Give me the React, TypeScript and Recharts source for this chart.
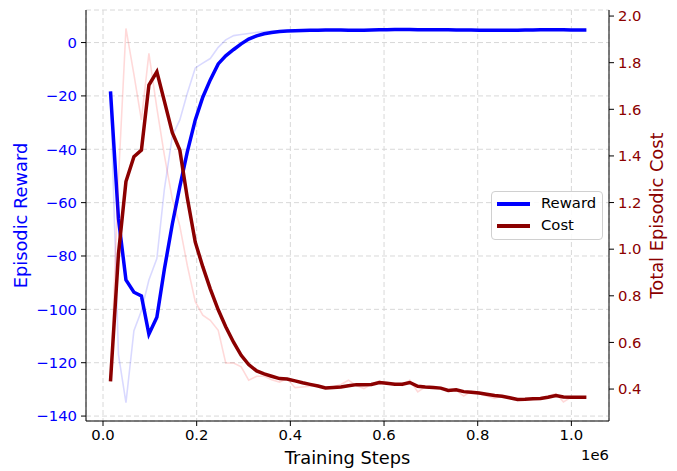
import { LineChart, Line, XAxis, YAxis, CartesianGrid, Legend } from "recharts";

// training steps, in thousands
const stepsK = [
  16, 33, 49, 66, 82, 98, 115, 131, 148, 164, 180, 197, 213, 229, 246, 262, 279, 295, 311, 328, 344,
  360, 377, 393, 410, 426, 442, 459, 475, 492, 508, 524, 541, 557, 573, 590, 606, 623, 639, 655, 672,
  688, 705, 721, 737, 754, 770, 786, 803, 819, 836, 852, 868, 885, 901, 918, 934, 950, 967, 983, 999,
  1016, 1032,
];

const rewardSmooth = [
  -18.3, -66, -89, -93.6, -95, -109.3, -103, -85, -68, -54, -41, -29, -20.5, -14, -8, -5, -2.6, -0.5,
  1.3, 2.5, 3.3, 3.8, 4.1, 4.3, 4.4, 4.5, 4.6, 4.6, 4.7, 4.7, 4.7, 4.6, 4.6, 4.6, 4.7, 4.8, 4.8, 4.9,
  4.9, 4.9, 4.8, 4.8, 4.8, 4.8, 4.8, 4.7, 4.7, 4.7, 4.6, 4.6, 4.6, 4.6, 4.6, 4.6, 4.7, 4.7, 4.8, 4.8,
  4.8, 4.8, 4.7, 4.7, 4.7,
];

const rewardRaw = [
  -18.3, -117, -135, -108, -100.5, -89, -81, -55, -35, -29, -19, -9.5, -7.7, -6, -1.8, 1, 2.6, 3.0,
  3.4, 3.8, 4.1, 4.3, 4.4, 4.5, 4.6, 4.6, 4.7, 4.6, 4.8, 4.7, 4.6, 4.6, 4.5, 4.7, 4.8, 4.9, 4.8, 5.0,
  4.9, 4.8, 4.8, 4.9, 4.7, 4.8, 4.8, 4.6, 4.7, 4.7, 4.5, 4.6, 4.7, 4.6, 4.5, 4.7, 4.8, 4.7, 4.9, 4.8,
  4.7, 4.8, 4.6, 4.7, 4.7,
];

const costSmooth = [
  0.433, 0.98, 1.29, 1.397, 1.425, 1.704, 1.761, 1.635, 1.5, 1.425, 1.22, 1.03, 0.925, 0.83, 0.74,
  0.667, 0.6, 0.545, 0.505, 0.478, 0.465, 0.455, 0.445, 0.443, 0.435, 0.427, 0.42, 0.413, 0.405, 0.407,
  0.409, 0.414, 0.419, 0.419, 0.42, 0.428, 0.425, 0.421, 0.421, 0.428, 0.412, 0.409, 0.407, 0.404,
  0.394, 0.397, 0.389, 0.386, 0.383, 0.378, 0.372, 0.369, 0.363, 0.355, 0.356, 0.358, 0.36, 0.365,
  0.372, 0.366, 0.365, 0.365, 0.365,
];

const costRaw = [
  0.433, 1.3, 1.947, 1.75, 1.554, 1.84, 1.605, 1.403, 1.215, 1.099, 0.93, 0.775, 0.717, 0.695, 0.652,
  0.512, 0.512, 0.495, 0.438, 0.455, 0.455, 0.44, 0.43, 0.445, 0.406, 0.409, 0.412, 0.416, 0.405, 0.41,
  0.42, 0.438, 0.415, 0.402, 0.42, 0.435, 0.42, 0.425, 0.415, 0.438, 0.388, 0.41, 0.405, 0.405, 0.39,
  0.395, 0.37, 0.39, 0.38, 0.37, 0.36, 0.37, 0.36, 0.355, 0.357, 0.36, 0.362, 0.37, 0.38, 0.345, 0.365,
  0.365, 0.366,
];

const xTicks = [0, 200000, 400000, 600000, 800000, 1000000];
const rewardTicks = [-140, -120, -100, -80, -60, -40, -20, 0];
const costTicks = [0.4, 0.6, 0.8, 1.0, 1.2, 1.4, 1.6, 1.8, 2.0];

const legendItems = [
  { name: "Reward", color: "#0000ff" },
  { name: "Cost", color: "#8b0000" },
];

const data = stepsK.map((s, i) => ({
  step: s * 1000,
  reward: rewardSmooth[i],
  rewardRaw: rewardRaw[i],
  cost: costSmooth[i],
  costRaw: costRaw[i],
}));

const font = "'DejaVu Sans', sans-serif";
const BLUE = "#0000ff";
const RED = "#8b0000";
const TICK_FS = 14.8;
const LABEL_FS = 17.8;

function LegendBox() {
  return (
    <div
      style={{
        position: "relative",
        width: 112,
        height: 49,
        boxSizing: "border-box",
        border: "1px solid #d0d0d0",
        borderRadius: 4,
        background: "rgba(255,255,255,0.85)",
        fontFamily: font,
        fontSize: TICK_FS,
        color: "#000",
      }}
    >
      {legendItems.map((it, i) => (
        <div key={it.name} style={{ position: "absolute", left: 0, top: 2 + i * 22, height: 18, width: 110 }}>
          <div style={{ position: "absolute", left: 5, top: 8, width: 33, height: 3.5, background: it.color }} />
          <span style={{ position: "absolute", left: 49, top: 0, lineHeight: "18px" }}>{it.name}</span>
        </div>
      ))}
    </div>
  );
}

export default function App() {
  return (
    <div style={{ position: "fixed", left: 0, top: 0, width: 677, height: 471, background: "#fff" }}>
      <LineChart width={677} height={471} data={data} margin={{ top: 10, right: 0, bottom: 0, left: 0 }}>
        <CartesianGrid xAxisId="x" yAxisId="left" stroke="#d8d8d8" strokeDasharray="5 3" />
        <XAxis
          xAxisId="x"
          dataKey="step"
          type="number"
          domain={[-36300, 1080300]}
          allowDataOverflow
          ticks={xTicks}
          tickFormatter={(v: number) => (v / 1e6).toFixed(1)}
          height={50}
          tickSize={5}
          tickMargin={3}
          stroke="#000"
          tick={{ fill: "#000", fontSize: TICK_FS, fontFamily: font }}
          label={{
            content: (p: any) => {
              const vb = p.viewBox;
              return (
                <g fontFamily={font}>
                  <text x={vb.x + vb.width / 2} y={vb.y + 43} textAnchor="middle" fontSize={LABEL_FS} fill="#000">
                    Training Steps
                  </text>
                  <text x={vb.x + vb.width} y={vb.y + 39} textAnchor="end" fontSize={TICK_FS} fill="#000">
                    1e6
                  </text>
                </g>
              );
            },
          }}
        />
        <XAxis
          xAxisId="top"
          orientation="top"
          type="number"
          domain={[-36300, 1080300]}
          height={0}
          tick={false}
          tickLine={false}
          stroke="#000"
        />
        <YAxis
          yAxisId="left"
          domain={[-141.85, 12.2]}
          allowDataOverflow
          ticks={rewardTicks}
          tickFormatter={(v: number) => String(v).replace("-", "\u2212")}
          width={86}
          tickSize={5}
          tickMargin={4}
          stroke="#000"
          tick={{ fill: BLUE, fontSize: TICK_FS, fontFamily: font }}
          label={{
            content: (p: any) => {
              const vb = p.viewBox;
              const cx = vb.x + 20;
              const cy = vb.y + vb.height / 2;
              return (
                <text
                  x={cx}
                  y={cy}
                  transform={`rotate(-90 ${cx} ${cy})`}
                  textAnchor="middle"
                  dominantBaseline="central"
                  fontSize={LABEL_FS}
                  fontFamily={font}
                  fill={BLUE}
                >
                  Episodic Reward
                </text>
              );
            },
          }}
        />
        <YAxis
          yAxisId="right"
          orientation="right"
          domain={[0.263, 2.026]}
          allowDataOverflow
          ticks={costTicks}
          tickFormatter={(v: number) => v.toFixed(1)}
          width={68}
          tickSize={5}
          tickMargin={4}
          stroke="#000"
          tick={{ fill: RED, fontSize: TICK_FS, fontFamily: font }}
          label={{
            content: (p: any) => {
              const vb = p.viewBox;
              const cx = vb.x + 47;
              const cy = vb.y + vb.height / 2;
              return (
                <text
                  x={cx}
                  y={cy}
                  transform={`rotate(-90 ${cx} ${cy})`}
                  textAnchor="middle"
                  dominantBaseline="central"
                  fontSize={LABEL_FS}
                  fontFamily={font}
                  fill={RED}
                >
                  Total Episodic Cost
                </text>
              );
            },
          }}
        />
        <Line xAxisId="x" yAxisId="left" dataKey="rewardRaw" type="linear" stroke={BLUE} strokeOpacity={0.15} strokeWidth={1.6} dot={false} activeDot={false} isAnimationActive={false} legendType="none" />
        <Line xAxisId="x" yAxisId="left" dataKey="reward" type="linear" stroke={BLUE} strokeWidth={3.5} dot={false} activeDot={false} isAnimationActive={false} />
        <Line xAxisId="x" yAxisId="right" dataKey="costRaw" type="linear" stroke="#ff0000" strokeOpacity={0.15} strokeWidth={1.6} dot={false} activeDot={false} isAnimationActive={false} legendType="none" />
        <Line xAxisId="x" yAxisId="right" dataKey="cost" type="linear" stroke={RED} strokeWidth={3.5} dot={false} activeDot={false} isAnimationActive={false} />
        <Legend
          layout="horizontal"
          align="center"
          verticalAlign="middle"
          content={() => <LegendBox />}
          wrapperStyle={{ left: 491, top: 191, width: 112, height: 49, bottom: "auto" }}
        />
      </LineChart>
    </div>
  );
}
